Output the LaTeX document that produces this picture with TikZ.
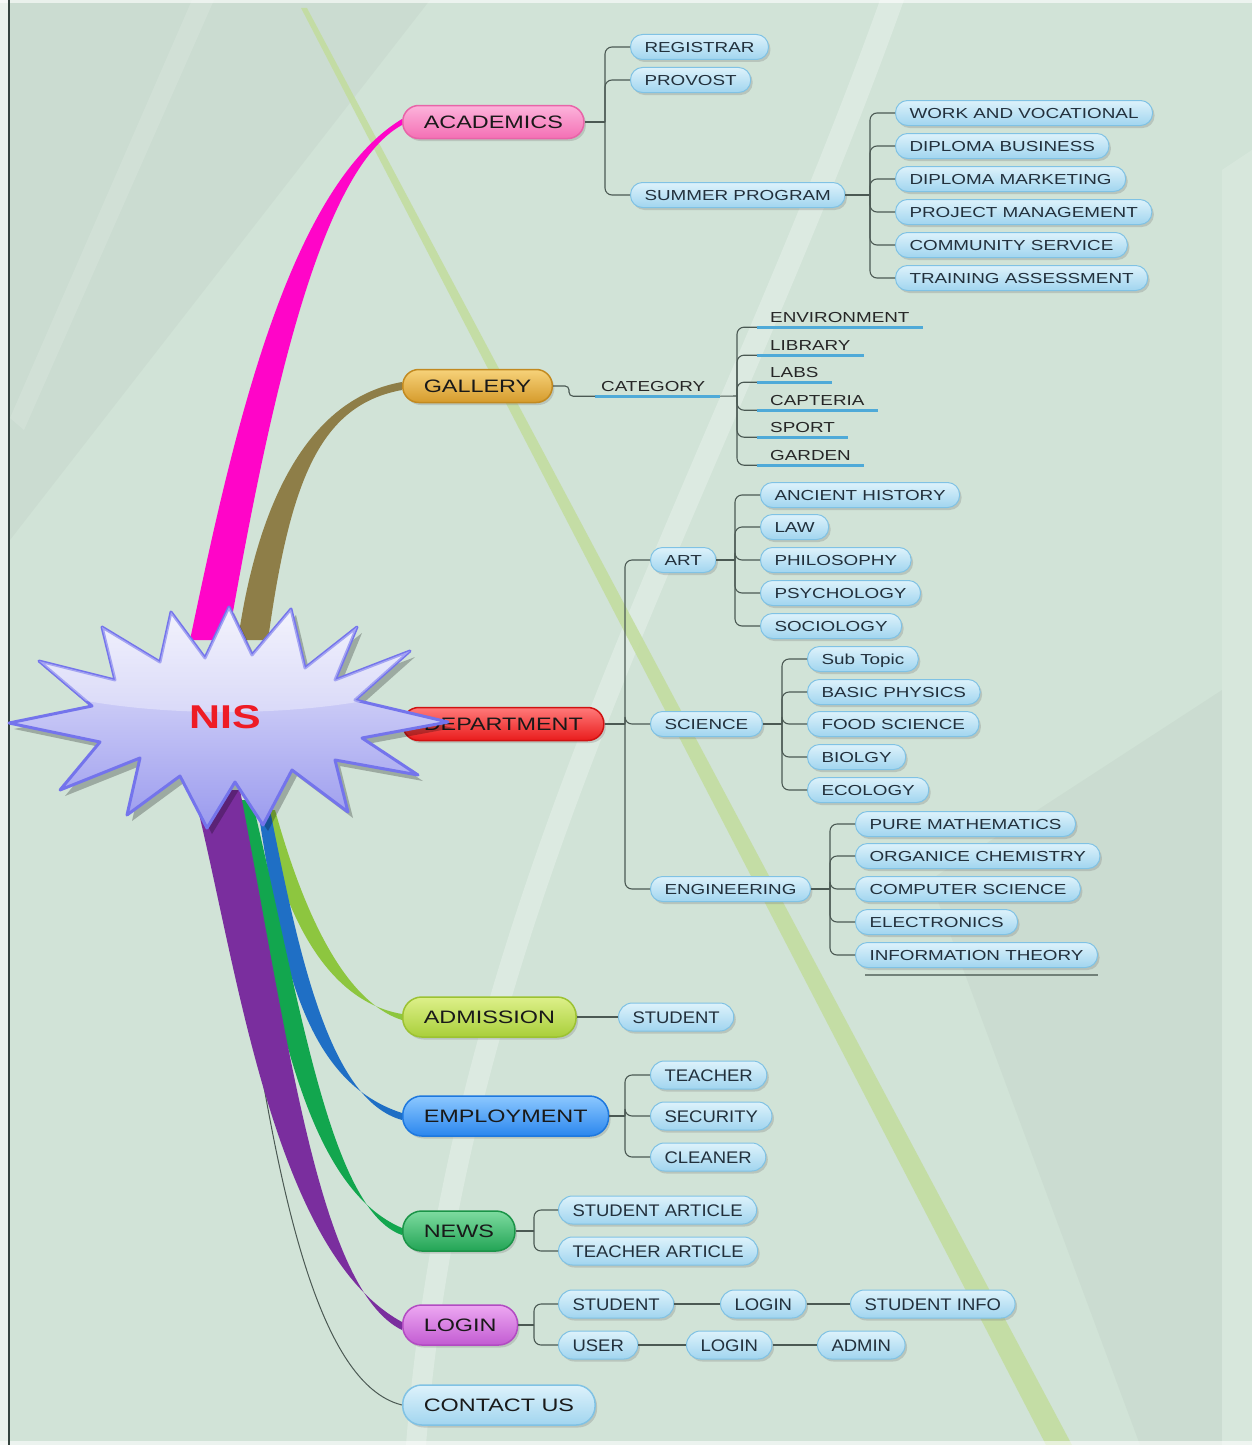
\documentclass[tikz,border=0pt]{standalone}
\usepackage{fontspec}
\setmainfont{Liberation Sans}
\newfontfamily\wideF[FakeStretch=1.3]{Liberation Sans}
\newfontfamily\midF[FakeStretch=1.1]{Liberation Sans}
\usetikzlibrary{shadows}
\definecolor{bgc}{HTML}{D1E3D7}
\definecolor{gband}{HTML}{C3DDA0}
\definecolor{leftline}{HTML}{34433E}
\definecolor{subtop}{HTML}{DDF2FB}
\definecolor{subbot}{HTML}{A1D5EF}
\definecolor{subline}{HTML}{80C2E4}
\definecolor{subtxt}{HTML}{22303C}
\definecolor{connc}{HTML}{4B5953}
\definecolor{ulc}{HTML}{4FAAD8}
\definecolor{pinkt}{HTML}{FCB3DB}\definecolor{pinkd}{HTML}{F46FB4}\definecolor{pinkl}{HTML}{E864A8}
\definecolor{goldt}{HTML}{F6D27A}\definecolor{goldd}{HTML}{D59B2C}\definecolor{goldl}{HTML}{C28A20}
\definecolor{redt}{HTML}{FF7A7A}\definecolor{redd}{HTML}{E91C1C}\definecolor{redl}{HTML}{D01212}
\definecolor{limet}{HTML}{DDF08A}\definecolor{limed}{HTML}{A9CF3A}\definecolor{limel}{HTML}{9CC232}
\definecolor{bluet}{HTML}{8CC8FF}\definecolor{blued}{HTML}{2A86EE}\definecolor{bluel}{HTML}{1E78DE}
\definecolor{greent}{HTML}{7EDBA0}\definecolor{greend}{HTML}{22A455}\definecolor{greenl}{HTML}{1B9448}
\definecolor{violt}{HTML}{EDA8F2}\definecolor{viold}{HTML}{C25BD2}\definecolor{violl}{HTML}{B24BC2}
\definecolor{ribpink}{HTML}{FF05C8}
\definecolor{ribolive}{HTML}{8E7E48}
\definecolor{riblime}{HTML}{8DC63F}
\definecolor{ribblue}{HTML}{1F6FC5}
\definecolor{ribgreen}{HTML}{12A64E}
\definecolor{ribviol}{HTML}{7A2E9E}
\definecolor{startop}{HTML}{EEEEFC}
\definecolor{starbot}{HTML}{9A9AEE}
\definecolor{starline}{HTML}{7474EC}
\definecolor{nisred}{HTML}{EE1C25}
\pgfdeclarelayer{background}
\pgfdeclarelayer{ribbon}
\pgfdeclarelayer{top}
\pgfsetlayers{background,ribbon,main,top}
\begin{document}
\begin{tikzpicture}[x=1pt,y=-1pt,
  conn/.style={draw=connc, line width=1.1pt, rounded corners=7pt},
  uline/.style={draw=ulc, line width=2.6pt},
  shad/.style={drop shadow={opacity=0.3, shadow xshift=2pt, shadow yshift=-2.5pt}},
  subnode/.style={rectangle, rounded corners=12pt, draw=subline, line width=1pt,
    top color=subtop, bottom color=subbot, minimum height=25pt, inner xsep=14pt,
    inner ysep=0pt, text height=10.5pt, text depth=0pt,
    font=\wideF\fontsize{14.5}{16}\selectfont, text=subtxt, anchor=west, shad},
  lownode/.style={subnode, rounded corners=14pt, minimum height=28pt, text height=12pt,
    font=\midF\fontsize{16.8}{18}\selectfont},
  ulnode/.style={rectangle, inner xsep=13pt, inner ysep=0pt, minimum height=20pt,
    text height=10.5pt, text depth=0pt, font=\wideF\fontsize{14.5}{16}\selectfont,
    text=black!85, anchor=west},
  mainnode/.style={rectangle, rounded corners=16pt, line width=1.5pt, minimum height=33pt,
    inner xsep=21pt, inner ysep=0pt, text height=13pt, text depth=0pt,
    font=\wideF\fontsize{18}{20}\selectfont, text=black!90, anchor=west, shad},
  mainlow/.style={mainnode, rounded corners=19pt, minimum height=40pt},
  cpink/.style={draw=pinkl, top color=pinkt, bottom color=pinkd},
  cgold/.style={draw=goldl, top color=goldt, bottom color=goldd},
  cred/.style={draw=redl, top color=redt, bottom color=redd},
  clime/.style={draw=limel, top color=limet, bottom color=limed},
  cblue/.style={draw=bluel, top color=bluet, bottom color=blued},
  cgreen/.style={draw=greenl, top color=greent, bottom color=greend},
  cviol/.style={draw=violl, top color=violt, bottom color=viold},
  clight/.style={draw=subline, top color=subtop, bottom color=subbot}
]
\path[use as bounding box] (0,0) rectangle (1252,1445);

% ---------------- background ----------------
\begin{pgfonlayer}{background}
\fill[bgc] (0,0) rectangle (1252,1445);
\fill[black!30!bgc, opacity=0.09] (10,0) -- (430,0) -- (10,540) -- cycle;
\fill[white, opacity=0.12] (192,0) -- (214,0) -- (24,430) -- (10,418) -- cycle;
\fill[white, opacity=0.25] (880,0) -- (904,0) .. controls (725,500) and (470,900) .. (426,1445)
   -- (406,1445) .. controls (448,900) and (700,500) .. (880,0) -- cycle;
\fill[black!30!bgc, opacity=0.09] (930,880) -- (1222,690) -- (1222,1445) -- (1140,1445) -- cycle;
\fill[white, opacity=0.15] (1222,170) -- (1252,150) -- (1252,1445) -- (1222,1445) -- cycle;
\fill[gband, opacity=0.9] (301,8) -- (307,8) -- (1072,1445) -- (1046,1445) -- cycle;
\fill[white, opacity=0.55] (0,0) rectangle (8,1445);
\fill[white, opacity=0.6] (0,0) rectangle (1252,3);
\fill[white, opacity=0.6] (0,1441) rectangle (1252,1445);
\draw[leftline, line width=2pt] (8.5,0) -- (8.5,1445);
\end{pgfonlayer}

% ---------------- main nodes ----------------
\node[mainnode, cpink] (acad) at (402,122) {ACADEMICS};
\node[mainnode, cgold] (gal) at (402,386) {GALLERY};
\node[mainnode, cred] (dep) at (402,724) {DEPARTMENT};
\node[mainlow, clime] (adm) at (402,1017) {ADMISSION};
\node[mainlow, cblue] (emp) at (402,1116) {EMPLOYMENT};
\node[mainlow, cgreen] (news) at (402,1231) {NEWS};
\node[mainlow, cviol] (login) at (402,1325) {LOGIN};
\node[mainlow, clight] (contact) at (402,1405) {CONTACT US};

% ---------------- academics ----------------
\node[subnode] (reg) at (630,47) {REGISTRAR};
\node[subnode] (prov) at (630,80) {PROVOST};
\node[subnode] (summ) at (630,195) {SUMMER PROGRAM};
\node[subnode] (wv) at (895,113) {WORK AND VOCATIONAL};
\node[subnode] (db) at (895,146) {DIPLOMA BUSINESS};
\node[subnode] (dm) at (895,179) {DIPLOMA MARKETING};
\node[subnode] (pm) at (895,212) {PROJECT MANAGEMENT};
\node[subnode] (cs) at (895,245) {COMMUNITY SERVICE};
\node[subnode] (ta) at (895,278) {TRAINING ASSESSMENT};
\coordinate (acB) at (605,122);
\draw[conn] (acad.east) -- (acB);
\foreach \n in {reg,prov,summ} \draw[conn] (acB) |- (\n.west);
\coordinate (smB) at (870,195);
\draw[conn] (summ.east) -- (smB);
\foreach \n in {wv,db,dm,pm,cs,ta} \draw[conn] (smB) |- (\n.west);

% ---------------- gallery ----------------
\node[ulnode, inner xsep=6pt] (cat) at (595,386) {CATEGORY};
\draw[uline] (cat.south west) -- ([xshift=9pt]cat.south east);
\draw[conn, rounded corners=4pt] (gal.east) -- ++(16,0) |- (cat.south west);
\node[ulnode] (env) at (757,317) {ENVIRONMENT};
\node[ulnode] (lib) at (757,345) {LIBRARY};
\node[ulnode] (labs) at (757,372) {LABS};
\node[ulnode] (capt) at (757,400) {CAPTERIA};
\node[ulnode] (sport) at (757,427) {SPORT};
\node[ulnode] (gard) at (757,455) {GARDEN};
\coordinate (caB) at (737,396);
\draw[conn] ([xshift=9pt]cat.south east) -- (caB);
\foreach \n in {env,lib,labs,capt,sport,gard} {
  \draw[conn] (caB) |- (\n.south west);
  \draw[uline] (\n.south west) -- (\n.south east);
}

% ---------------- department ----------------
\node[subnode] (art) at (650,560) {ART};
\node[subnode] (sci) at (650,724) {SCIENCE};
\node[subnode] (eng) at (650,889) {ENGINEERING};
\coordinate (dpB) at (625,724);
\draw[conn] (dep.east) -- (dpB);
\foreach \n in {art,sci,eng} \draw[conn] (dpB) |- (\n.west);

\node[subnode] (ah) at (760,495) {ANCIENT HISTORY};
\node[subnode] (law) at (760,527) {LAW};
\node[subnode] (phil) at (760,560) {PHILOSOPHY};
\node[subnode] (psy) at (760,593) {PSYCHOLOGY};
\node[subnode] (soc) at (760,626) {SOCIOLOGY};
\coordinate (arB) at (735,560);
\draw[conn] (art.east) -- (arB);
\foreach \n in {ah,law,phil,psy,soc} \draw[conn] (arB) |- (\n.west);

\node[subnode] (st) at (807,659) {Sub Topic};
\node[subnode] (bp) at (807,692) {BASIC PHYSICS};
\node[subnode] (fs) at (807,724) {FOOD SCIENCE};
\node[subnode] (bio) at (807,757) {BIOLGY};
\node[subnode] (eco) at (807,790) {ECOLOGY};
\coordinate (scB) at (782,724);
\draw[conn] (sci.east) -- (scB);
\foreach \n in {st,bp,fs,bio,eco} \draw[conn] (scB) |- (\n.west);

\node[subnode] (pmath) at (855,824) {PURE MATHEMATICS};
\node[subnode] (oc) at (855,856) {ORGANICE CHEMISTRY};
\node[subnode] (comp) at (855,889) {COMPUTER SCIENCE};
\node[subnode] (elec) at (855,922) {ELECTRONICS};
\node[subnode] (info) at (855,955) {INFORMATION THEORY};
\coordinate (enB) at (830,889);
\draw[conn] (eng.east) -- (enB);
\foreach \n in {pmath,oc,comp,elec,info} \draw[conn] (enB) |- (\n.west);
\draw[connc, line width=1.2pt, opacity=0.7] ([xshift=10pt,yshift=-7pt]info.south west) -- ([yshift=-7pt]info.south east);

% ---------------- admission ----------------
\node[lownode] (stu1) at (618,1017) {STUDENT};
\draw[conn] (adm.east) -- (stu1.west);

% ---------------- employment ----------------
\node[lownode] (teach) at (650,1075) {TEACHER};
\node[lownode] (sec) at (650,1116) {SECURITY};
\node[lownode] (clean) at (650,1157) {CLEANER};
\coordinate (emB) at (625,1116);
\draw[conn] (emp.east) -- (emB);
\foreach \n in {teach,sec,clean} \draw[conn] (emB) |- (\n.west);

% ---------------- news ----------------
\node[lownode] (sart) at (558,1210) {STUDENT ARTICLE};
\node[lownode] (tart) at (558,1251) {TEACHER ARTICLE};
\coordinate (nwB) at (534,1231);
\draw[conn] (news.east) -- (nwB);
\foreach \n in {sart,tart} \draw[conn] (nwB) |- (\n.west);

% ---------------- login ----------------
\node[lownode] (stu2) at (558,1304) {STUDENT};
\node[lownode] (lg1) at (720,1304) {LOGIN};
\node[lownode] (sinfo) at (850,1304) {STUDENT INFO};
\node[lownode] (user) at (558,1345) {USER};
\node[lownode] (lg2) at (686,1345) {LOGIN};
\node[lownode] (admin) at (817,1345) {ADMIN};
\coordinate (lgB) at (534,1325);
\draw[conn] (login.east) -- (lgB);
\foreach \n in {stu2,user} \draw[conn] (lgB) |- (\n.west);
\draw[conn] (stu2.east) -- (lg1.west);
\draw[conn] (lg1.east) -- (sinfo.west);
\draw[conn] (user.east) -- (lg2.west);
\draw[conn] (lg2.east) -- (admin.west);

% ---------------- ribbons ----------------
\begin{pgfonlayer}{ribbon}
\fill[ribolive] (238,640) .. controls (255,520) and (300,400) .. ([yshift=4pt]gal.west)
  -- ([yshift=-4pt]gal.west) .. controls (320,405) and (290,480) .. (268,640) -- cycle;
\fill[ribpink] (190,640) .. controls (230,450) and (285,190) .. ([yshift=3pt]acad.west)
  -- ([yshift=-3pt]acad.west) .. controls (320,170) and (270,400) .. (228,640) -- cycle;
\draw[connc, line width=1pt] (225,820) .. controls (262,1100) and (300,1380) .. (contact.west);
\fill[riblime] (262,810) .. controls (280,900) and (320,1000) .. ([yshift=3pt]adm.west)
  -- ([yshift=-3pt]adm.west) .. controls (340,1000) and (300,900) .. (275,810) -- cycle;
\fill[ribblue] (258,810) .. controls (280,950) and (300,1080) .. ([yshift=3pt]emp.west)
  -- ([yshift=-4pt]emp.west) .. controls (330,1100) and (300,960) .. (270,810) -- cycle;
\fill[ribgreen] (232,800) .. controls (270,950) and (290,1180) .. ([yshift=3pt]news.west)
  -- ([yshift=-4pt]news.west) .. controls (330,1210) and (300,1000) .. (252,800) -- cycle;
\fill[ribviol] (193,790) .. controls (235,950) and (270,1250) .. ([yshift=3pt]login.west)
  -- ([yshift=-5pt]login.west) .. controls (320,1290) and (290,1050) .. (240,790) -- cycle;
\end{pgfonlayer}

% ---------------- star ----------------
\begin{pgfonlayer}{top}
\path[fill=black, opacity=0.25, xshift=5pt, yshift=-6pt]
  (9,723) -- (92,706) -- (39,661) -- (115,680) -- (102,627) -- (160,662) -- (171,612)
  -- (205,658) -- (229,607) -- (252,655) -- (291,609) -- (305,668) -- (357,627)
  -- (335,680) -- (410,651) -- (355,700) -- (448,722) -- (362,738) -- (418,775)
  -- (335,760) -- (348,812) -- (292,770) -- (263,825) -- (235,782) -- (207,828)
  -- (180,776) -- (127,815) -- (140,758) -- (60,790) -- (100,742) -- cycle;
\path[top color=startop, bottom color=starbot, draw=starline, line width=3pt, line join=round]
  (9,723) -- (92,706) -- (39,661) -- (115,680) -- (102,627) -- (160,662) -- (171,612)
  -- (205,658) -- (229,607) -- (252,655) -- (291,609) -- (305,668) -- (357,627)
  -- (335,680) -- (410,651) -- (355,700) -- (448,722) -- (362,738) -- (418,775)
  -- (335,760) -- (348,812) -- (292,770) -- (263,825) -- (235,782) -- (207,828)
  -- (180,776) -- (127,815) -- (140,758) -- (60,790) -- (100,742) -- cycle;
\begin{scope}
\clip (9,723) -- (92,706) -- (39,661) -- (115,680) -- (102,627) -- (160,662) -- (171,612)
  -- (205,658) -- (229,607) -- (252,655) -- (291,609) -- (305,668) -- (357,627)
  -- (335,680) -- (410,651) -- (355,700) -- (448,722) -- (362,738) -- (418,775)
  -- (335,760) -- (348,812) -- (292,770) -- (263,825) -- (235,782) -- (207,828)
  -- (180,776) -- (127,815) -- (140,758) -- (60,790) -- (100,742) -- cycle;
\fill[white, opacity=0.35] (225,640) ellipse [x radius=260, y radius=72];
\end{scope}
\node[font=\wideF\bfseries\fontsize{33}{35}\selectfont, text=nisred] (nis) at (225,717) {NIS};
\end{pgfonlayer}
\end{tikzpicture}
\end{document}
